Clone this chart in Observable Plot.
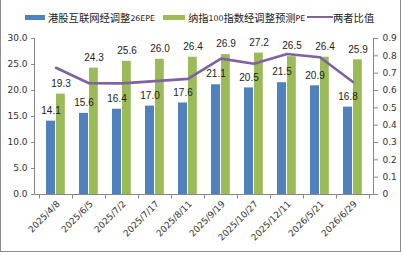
<!DOCTYPE html>
<html>
<head>
<meta charset="utf-8">
<script src="https://cdn.jsdelivr.net/npm/d3@7"></script>
<script src="https://cdn.jsdelivr.net/npm/@observablehq/plot@0.6"></script>
<style>
  html, body { margin: 0; padding: 0; background: #fff; }
  #wrap { position: relative; width: 403px; height: 255px; overflow: hidden; background: #fff; }
  #border { position: absolute; left: 0; top: -1px; width: 399px; height: 251px; border: 1px solid #8c8c8c; }
  #legend { position: absolute; left: 0; top: 0; width: 403px; height: 28px; }
  .item { position: absolute; top: 9px; height: 16px; display: flex; align-items: center; white-space: nowrap; color: #222; }
  .sw { display: inline-block; height: 5px; }
  .cjk { font-family: "Noto Sans CJK SC", sans-serif; font-size: 10.3px; }
  .lat { font-family: "DejaVu Sans", sans-serif; font-size: 7.8px; position: relative; top: 1px; }
  #chart { position: absolute; left: 0; top: 28px; }
</style>
</head>
<body>
<div id="wrap">
  <div id="legend"></div>
  <div id="chart"></div>
  <div id="border"></div>
</div>
<script>
// Valuation dates
const dates = ["2025/4/8", "2025/6/5", "2025/7/2", "2025/7/17", "2025/8/11",
               "2025/9/19", "2025/10/27", "2025/12/11", "2026/5/21", "2026/6/29"];
// HK internet adjusted 26E PE
const hkPE = [14.1, 15.6, 16.4, 17.0, 17.6, 21.1, 20.5, 21.5, 20.9, 16.8];
// Nasdaq 100 adjusted forward PE
const ndxPE = [19.3, 24.3, 25.6, 26.0, 26.4, 26.9, 27.2, 26.5, 26.4, 25.9];
// Ratio of the two (right axis)
const ratio = [0.731, 0.642, 0.641, 0.654, 0.667, 0.784, 0.754, 0.811, 0.792, 0.649];

const leftTicks = [0, 5, 10, 15, 20, 25, 30];
const rightTicks = [0, 0.1, 0.2, 0.3, 0.4, 0.5, 0.6, 0.7, 0.8, 0.9];
const seriesNames = ["港股互联网经调整26EPE", "纳指100指数经调整预测PE", "两者比值"];
const seriesColors = ["#4F81BD", "#9BBB59", "#7F62A1"];

// right axis (0–0.9) is drawn on the left scale (0–30)
const k = 30 / 0.9;

const rows = dates.map((d, i) => ({date: d, hk: hkPE[i], ndx: ndxPE[i], ratio: ratio[i]}));

// Legend: CJK runs in the CJK font, Latin runs smaller
const legendLayout = [
  {left: 25, w: 20, gap: 3, h: 5},
  {left: 163, w: 22, gap: 3, h: 5},
  {left: 307, w: 26, gap: 0, h: 2.5}
];
const legend = document.getElementById("legend");
seriesNames.forEach((name, i) => {
  const L = legendLayout[i];
  const item = document.createElement("div");
  item.className = "item";
  item.style.left = L.left + "px";
  const sw = document.createElement("span");
  sw.className = "sw";
  sw.style.width = L.w + "px";
  sw.style.height = L.h + "px";
  sw.style.background = seriesColors[i];
  sw.style.marginRight = L.gap + "px";
  item.appendChild(sw);
  name.match(/[\u3400-\u9fff]+|[^\u3400-\u9fff]+/g).forEach(run => {
    const s = document.createElement("span");
    s.className = /[\u3400-\u9fff]/.test(run) ? "cjk" : "lat";
    s.textContent = run;
    item.appendChild(s);
  });
  legend.appendChild(item);
});

// Axis lines and category boundary ticks
function frameLines(index, scales, values, dimensions) {
  const {width, height, marginLeft, marginRight, marginTop, marginBottom} = dimensions;
  const g = d3.create("svg:g").attr("stroke", "#868686").attr("stroke-width", 1).attr("fill", "none");
  const x0 = marginLeft + 0.5, x1 = width - marginRight + 0.5;
  const yb = height - marginBottom + 0.5, yt = marginTop;
  g.append("line").attr("x1", x0).attr("x2", x0).attr("y1", yt).attr("y2", yb);
  g.append("line").attr("x1", x1).attr("x2", x1).attr("y1", yt).attr("y2", yb);
  g.append("line").attr("x1", x0).attr("x2", x1).attr("y1", yb).attr("y2", yb);
  const bw = scales.x.bandwidth ? scales.x.bandwidth() : (width - marginLeft - marginRight) / dates.length;
  const bounds = dates.map(d => scales.x(d)).concat([scales.x(dates[dates.length - 1]) + bw]);
  bounds.forEach(b => {
    const xb = Math.round(b) + 0.5;
    g.append("line").attr("x1", xb).attr("x2", xb).attr("y1", yb).attr("y2", yb + 4);
  });
  return g.node();
}

const chart = Plot.plot({
  width: 403,
  height: 227,
  marginTop: 10,
  marginBottom: 61,
  marginLeft: 34,
  marginRight: 30,
  style: {fontFamily: "DejaVu Sans", fontSize: "9px", color: "#333", background: "transparent"},
  x: {type: "band", domain: dates, padding: 0, label: null},
  y: {domain: [0, 30], label: null},
  marks: [
    Plot.barY(rows, {x: "date", y: "hk", fill: seriesColors[0], insetLeft: 7, insetRight: 17}),
    Plot.barY(rows, {x: "date", y: "ndx", fill: seriesColors[1], insetLeft: 17, insetRight: 7.2}),
    Plot.line(rows, {x: "date", y: d => d.ratio * k, stroke: seriesColors[2], strokeWidth: 2.6}),
    Plot.text(rows, {x: "date", y: "hk", text: d => d.hk.toFixed(1), dx: -5, dy: -10.5,
      fontFamily: "Liberation Sans", fontSize: 10, fill: "#222"}),
    Plot.text(rows, {x: "date", y: "ndx", text: d => d.ndx.toFixed(1), dx: 5, dy: -10.5,
      fontFamily: "Liberation Sans", fontSize: 10, fill: "#222"}),
    frameLines,
    Plot.axisY(leftTicks, {anchor: "left", tickFormat: d => d.toFixed(1), tickSize: 3, tickPadding: 4,
      stroke: "#868686", fill: "#333", label: null}),
    Plot.axisY(rightTicks.map(t => t * k), {anchor: "right",
      tickFormat: d => { const r = d / k; return r < 1e-9 ? "0" : r.toFixed(1); },
      tickSize: 4, tickPadding: 5, stroke: "#868686", fill: "#333", label: null}),
    Plot.axisX({tickRotate: -45, tickSize: 0, tickPadding: 8, dx: 2.5, fill: "#333", label: null})
  ]
});
document.getElementById("chart").appendChild(chart);
</script>
</body>
</html>
